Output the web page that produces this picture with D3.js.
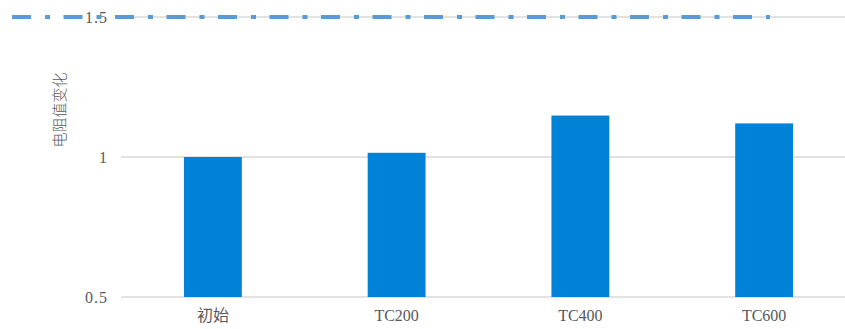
<!DOCTYPE html>
<html>
<head>
<meta charset="utf-8">
<script src="https://cdn.jsdelivr.net/npm/d3@7"></script>
<style>
  body { margin: 0; background: #fff; }
</style>
</head>
<body>
<svg id="chart"></svg>
<script>
// categories and values
const categories = ["初始", "TC200", "TC400", "TC600"];
const resistance = [1.0, 1.015, 1.148, 1.12];
const yTicks = [0.5, 1, 1.5];
const yTickLabels = ["0.5", "1", "1.5"];
const refValue = 1.5;

const W = 845, H = 329;
const svg = d3.select("#chart").attr("width", W).attr("height", H);

// plot area (right edge runs off the picture, as in the reference)
const left = 121, right = 856;

const x = d3.scaleBand()
    .domain(categories)
    .range([left, right])
    .paddingInner(0.685)
    .paddingOuter(0.3425);

const y = d3.scaleLinear()
    .domain([0.5, 1.5])
    .range([297, 17]);

// gridlines
svg.append("g")
    .selectAll("line")
    .data(yTicks)
    .enter()
    .append("line")
    .attr("x1", left)
    .attr("x2", right)
    .attr("y1", d => y(d))
    .attr("y2", d => y(d))
    .attr("stroke", "#d9d9d9")
    .attr("stroke-width", 1.3);

// bars
svg.append("g")
    .selectAll("rect")
    .data(categories)
    .enter()
    .append("rect")
    .attr("x", d => x(d))
    .attr("width", x.bandwidth())
    .attr("y", (d, i) => y(resistance[i]))
    .attr("height", (d, i) => y(0.5) - y(resistance[i]))
    .attr("fill", "#0083d7");

// y axis labels
let yAxis = d3.axisLeft(y)
    .tickValues(yTicks)
    .tickFormat((d, i) => yTickLabels[i])
    .tickSize(0)
    .tickPadding(0);

svg.append("g")
    .attr("transform", "translate(108,0)")
    .call(yAxis)
    .call(g => g.select(".domain").remove())
    .selectAll("text")
    .style("font-family", "'Liberation Serif', 'DejaVu Serif', serif")
    .style("font-size", "16px")
    .style("letter-spacing", "1px")
    .attr("fill", "#595959");

// x axis labels
let xAxis = d3.axisBottom(x).tickSize(0).tickPadding(0);
svg.append("g")
    .attr("transform", "translate(0,310)")
    .call(xAxis)
    .call(g => g.select(".domain").remove())
    .selectAll("text")
    .style("font-family", "'Liberation Serif', 'Noto Sans CJK SC', serif")
    .style("font-size", "16px")
    .attr("fill", "#595959");

// y axis title
svg.append("text")
    .attr("transform", "translate(65,110) rotate(-90)")
    .attr("text-anchor", "middle")
    .style("font-family", "'Noto Sans CJK SC', sans-serif")
    .style("font-size", "15px")
    .style("font-weight", "300")
    .attr("fill", "#595959")
    .text("电阻值变化");

// dash-dot reference line at 1.5
svg.append("line")
    .attr("x1", 12)
    .attr("x2", 770)
    .attr("y1", y(refValue))
    .attr("y2", y(refValue))
    .attr("stroke", "#5b9bd5")
    .attr("stroke-width", 4)
    .attr("stroke-dasharray", "19 14 5 13.5");
</script>
</body>
</html>
